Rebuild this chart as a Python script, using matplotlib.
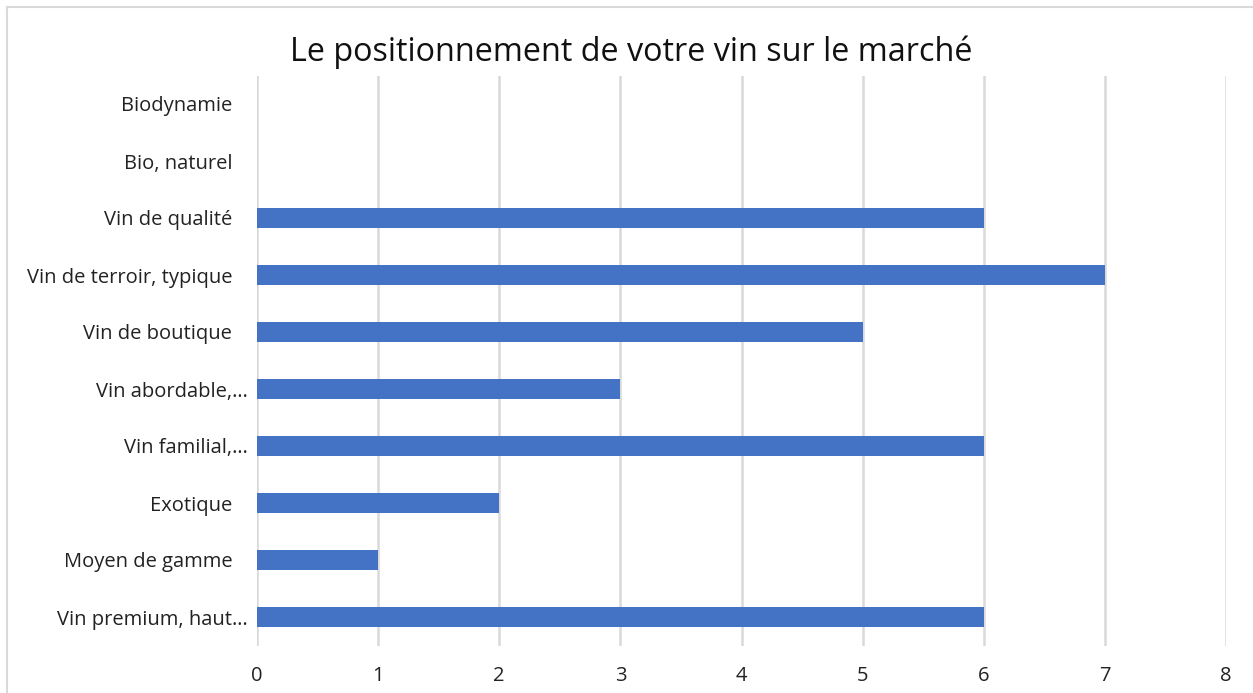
import matplotlib.pyplot as plt
from matplotlib.lines import Line2D

# data, bottom to top as drawn
categories = ['Vin premium, haut…', 'Moyen de gamme   ', 'Exotique   ', 'Vin familial,…',
              'Vin abordable,…', 'Vin de boutique   ', 'Vin de terroir, typique   ',
              'Vin de qualité   ', 'Bio, naturel   ', 'Biodynamie   ']
counts = [6, 1, 2, 6, 3, 5, 7, 6, 0, 0]
xticks = [0, 1, 2, 3, 4, 5, 6, 7, 8]

plt.rcParams['font.family'] = ['Open Sans', 'DejaVu Sans']

W, H = 1253, 693
fig = plt.figure(figsize=(W / 100, H / 100), dpi=100)
ax = fig.add_axes([257 / W, 1 - 645.5 / H, (1226 - 257) / W, (645.5 - 75.5) / H])

ypos = range(len(categories))
ax.barh(ypos, counts, height=0.35, color='#4472C4', zorder=3)

ax.set_xlim(0, 8)
ax.set_ylim(-0.5, len(categories) - 0.5)
ax.set_xticks(xticks)
ax.set_yticks(list(ypos))
ax.set_yticklabels(categories)
ax.tick_params(axis='both', length=0, labelsize=14.5, colors='#222222')
ax.tick_params(axis='y', pad=6.5)
ax.tick_params(axis='x', pad=15)
ax.xaxis.grid(True, color='#d9d9d9', linewidth=1.8)
ax.set_axisbelow(True)
for s in ax.spines.values():
    s.set_visible(False)

fig.text(0.504, 1 - 52 / H, 'Le positionnement de votre vin sur le marché',
         ha='center', va='center', fontsize=23.3, color='#111111')

# chart area border (left and top visible)
fig.add_artist(Line2D([7 / W, 7 / W], [0, 1 - 7 / H], transform=fig.transFigure,
                      color='#d9d9d9', linewidth=1.5))
fig.add_artist(Line2D([7 / W, 1], [1 - 7 / H, 1 - 7 / H], transform=fig.transFigure,
                      color='#d9d9d9', linewidth=1.5))

fig.savefig('out.png', dpi=100)
